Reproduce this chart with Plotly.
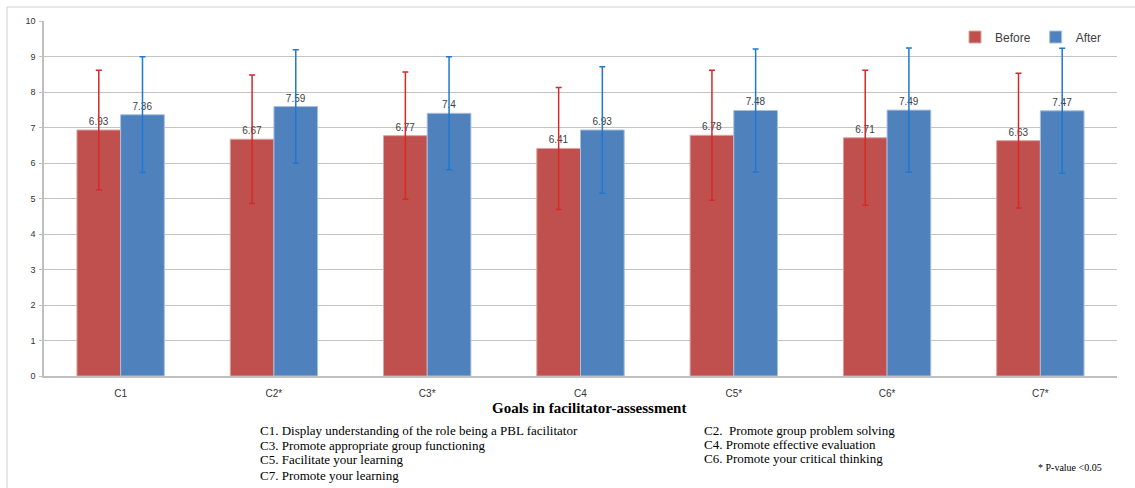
import plotly.graph_objects as go

# Facilitator self-assessment scores, before vs after the training
categories = ["C1", "C2*", "C3*", "C4", "C5*", "C6*", "C7*"]
before_mean = [6.93, 6.67, 6.77, 6.41, 6.78, 6.71, 6.63]
after_mean = [7.36, 7.59, 7.40, 6.93, 7.48, 7.49, 7.47]
before_sd = [1.68, 1.81, 1.79, 1.72, 1.83, 1.90, 1.90]
after_sd = [1.63, 1.60, 1.59, 1.78, 1.73, 1.75, 1.76]
y_ticks = [0, 1, 2, 3, 4, 5, 6, 7, 8, 9, 10]

goal_notes_left = [
    "C1. Display understanding of the role being a PBL facilitator",
    "C3. Promote appropriate group functioning",
    "C5. Facilitate your learning",
    "C7. Promote your learning",
]
goal_notes_right = [
    "C2.\u00a0 Promote group problem solving",
    "C4. Promote effective evaluation",
    "C6. Promote your critical thinking",
]

W, H = 1135, 488
M_L, M_R, M_T, M_B = 44, 18, 21, 112
PW, PH = W - M_L - M_R, H - M_T - M_B


def px(x):
    return (x - M_L) / PW


def py(y):
    return (H - M_B - y) / PH


RED, BLUE = "#C0504D", "#4F81BD"
LABEL_FONT = dict(family="Liberation Sans", size=10, color="#404040")

fig = go.Figure()
fig.add_trace(go.Bar(
    name="Before", x=categories, y=before_mean,
    marker=dict(color=RED, line=dict(color="#d9a3a1", width=1)),
    error_y=dict(type="data", array=before_sd, visible=True,
                 color="#d42a2a", thickness=1.5, width=3),
    text=before_mean, texttemplate="%{y}", textposition="outside",
    textfont=LABEL_FONT, cliponaxis=False, constraintext="none",
))
fig.add_trace(go.Bar(
    name="After", x=categories, y=after_mean,
    marker=dict(color=BLUE, line=dict(color="#a9c0dd", width=1)),
    error_y=dict(type="data", array=after_sd, visible=True,
                 color="#1f78d1", thickness=1.5, width=3),
    text=after_mean, texttemplate="%{y}", textposition="outside",
    textfont=LABEL_FONT, cliponaxis=False, constraintext="none",
))

annotations = [
    dict(text="<b>Goals in facilitator-assessment</b>", x=px(589), y=py(408),
         xref="paper", yref="paper", showarrow=False, xanchor="center", yanchor="middle",
         font=dict(family="Liberation Serif", size=15, color="#000000")),
    dict(text="* P-value <0.05", x=px(1036), y=py(467),
         xref="paper", yref="paper", showarrow=False, xanchor="left", yanchor="middle",
         font=dict(family="Liberation Serif", size=10, color="#000000")),
]
for i, line in enumerate(goal_notes_left):
    annotations.append(dict(
        text=line, x=px(258), y=py(430 + 15 * i), xref="paper", yref="paper",
        showarrow=False, xanchor="left", yanchor="middle",
        font=dict(family="Liberation Serif", size=13, color="#000000")))
for i, line in enumerate(goal_notes_right):
    annotations.append(dict(
        text=line, x=px(702), y=py(430 + 14.5 * i), xref="paper", yref="paper",
        showarrow=False, xanchor="left", yanchor="middle",
        font=dict(family="Liberation Serif", size=13, color="#000000")))

fig.update_layout(
    width=W, height=H,
    margin=dict(l=M_L, r=M_R, t=M_T, b=M_B, pad=0),
    paper_bgcolor="white", plot_bgcolor="white",
    barmode="group", bargap=0.43, bargroupgap=0,
    font=dict(family="Liberation Sans", color="#404040"),
    legend=dict(orientation="h", x=px(955), y=py(37), xanchor="left", yanchor="middle",
                bgcolor="rgba(0,0,0,0)", font=dict(size=12, color="#404040"),
                itemwidth=30, tracegroupgap=0),
    annotations=annotations,
    shapes=[
        dict(type="line", xref="paper", yref="paper", x0=px(7), x1=px(W), y0=py(7), y1=py(7),
             line=dict(color="#d0d0d0", width=1)),
        dict(type="line", xref="paper", yref="paper", x0=px(7), x1=px(7), y0=py(7), y1=py(H),
             line=dict(color="#d0d0d0", width=1)),
    ],
)
fig.update_xaxes(
    showline=True, linecolor="#bfbfbf", linewidth=1.5,
    ticks="", tickfont=dict(family="Liberation Sans", size=10, color="#333333"),
    ticklabelstandoff=7,
)
fig.update_yaxes(
    range=[0, 10], tickvals=y_ticks, showline=True, linecolor="#bfbfbf", linewidth=1.5,
    showgrid=True, gridcolor="#c4c4c4", gridwidth=1.3,
    ticks="outside", ticklen=3, tickcolor="#bfbfbf",
    tickfont=dict(family="Liberation Sans", size=9, color="#333333"),
    ticklabelstandoff=2, zeroline=False,
)

fig.write_html("out.html")
